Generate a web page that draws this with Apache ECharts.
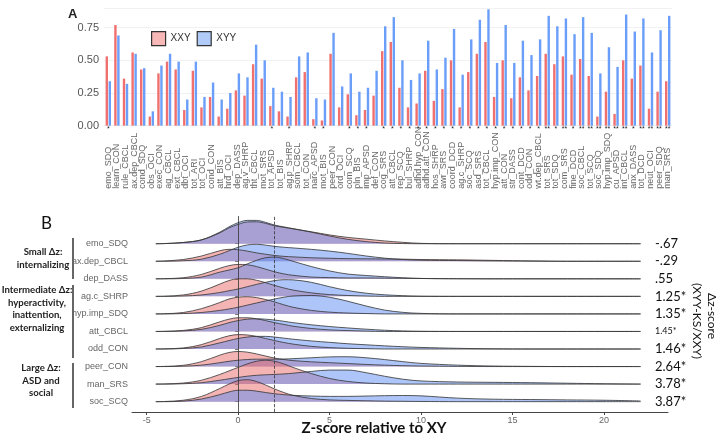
<!DOCTYPE html>
<html>
<head>
<meta charset="utf-8">
<script src="https://cdn.jsdelivr.net/npm/echarts@6/dist/echarts.min.js"></script>
<style>
html, body { margin: 0; padding: 0; background: #fff; }
#chart { width: 720px; height: 440px; }
</style>
</head>
<body>
<div id="chart"></div>
<script>
// ---- panel A: correlations per measure ----
const measures = ['emo_SDQ', 'learn_CON', 'rule_CBCL', 'ax.dep_CBCL', 'cond_SDQ', 'obs_OCI', 'exec_CON', 'ag_CBCL', 'ext_CBCL', 'dbt_OCI',
  'tot_ARI', 'tot_OCI', 'cond_CON', 'att_BIS', 'hrd_OCI', 'dep_DASS', 'ag.v_SHRP', 'tht_CBCL', 'mot_SRS', 'tot_APSD',
  'tot_BIS', 'ag.p_SHRP', 'som_CBCL', 'tot_CON', 'narc_APSD', 'mot_BIS', 'peer_CON', 'ord_OCI', 'com_SCQ', 'pln_BIS',
  'imp_APSD', 'def_CON', 'cog_SRS', 'att_CBCL', 'rep_SCQ', 'bul_SHRP', 'adhd.hyp_CON', 'adhd.att_CON', 'hos_SHRP', 'awr_SRS',
  'coord_DCD', 'ag.c_SHRP', 'soc_SCQ', 'asd_SRS', 'tot_CBCL', 'hyp.imp_CON', 'att_CON', 'str_DASS', 'cont_DCD', 'odd_CON',
  'wt.dep_CBCL', 'tot_SRS', 'tot_SDQ', 'com_SRS', 'fine_DCD', 'soc_CBCL', 'tot_SCQ', 'soc_SDQ', 'hyp.imp_SDQ', 'cu_APSD',
  'int_CBCL', 'anx_DASS', 'tot_DCD', 'neut_OCI', 'peer_SDQ', 'man_SRS'];

const xxyValues = [0.53, 0.77, 0.36, 0.56, 0.43, 0.07, 0.40, 0.49, 0.43, 0.12,
  0.42, 0.14, 0.22, 0.07, 0.13, 0.27, 0.23, 0.47, 0.36, 0.15,
  0.11, 0.07, 0.37, 0.41, 0.05, 0.04, 0.55, 0.14, 0.24, 0.08,
  0.12, 0.23, 0.57, 0.64, 0.29, 0.14, 0.17, 0.42, 0.19, 0.28,
  0.50, 0.14, 0.41, 0.55, 0.64, 0.22, 0.50, 0.21, 0.37, 0.27,
  0.38, 0.55, 0.47, 0.53, 0.39, 0.51, 0.38, 0.07, 0.26, 0.09,
  0.50, 0.36, 0.46, 0.13, 0.26, 0.34];

const xyyValues = [0.34, 0.69, 0.32, 0.55, 0.44, 0.11, 0.46, 0.55, 0.49, 0.20,
  0.49, 0.22, 0.33, 0.20, 0.25, 0.40, 0.37, 0.62, 0.50, 0.29,
  0.26, 0.22, 0.53, 0.56, 0.21, 0.20, 0.71, 0.30, 0.40, 0.26,
  0.29, 0.42, 0.76, 0.83, 0.50, 0.35, 0.40, 0.65, 0.43, 0.52,
  0.74, 0.39, 0.66, 0.81, 0.89, 0.48, 0.77, 0.48, 0.65, 0.54,
  0.66, 0.84, 0.76, 0.82, 0.70, 0.83, 0.71, 0.40, 0.60, 0.45,
  0.85, 0.72, 0.82, 0.56, 0.73, 0.84];

const sigMarks = ['*', '', '', '', '', '', '', '', '', '',
  '', '', '', '', '', '', '', '', '', '*',
  '', '*', '', '', '*', '*', '', '', '*', '*',
  '*', '', '*', '*', '*', '*', '*', '*', '*', '*',
  '*', '*', '*', '*', '*', '*', '*', '*', '*', '*',
  '*', '**', '*', '**', '*', '**', '**', '**', '**', '**',
  '**', '*', '**', '**', '**', '**'];

const yTicksA = [0, 0.25, 0.5, 0.75];

// ---- panel B: z-score distributions ----
const ridgeNames = ['emo_SDQ', 'ax.dep_CBCL', 'dep_DASS', 'ag.c_SHRP', 'hyp.imp_SDQ', 'att_CBCL', 'odd_CON', 'peer_CON', 'man_SRS', 'soc_SCQ'];
const deltaZ = ['-.67', '-.29', '.55', '1.25*', '1.35*', '1.45*', '1.46*', '2.64*', '3.78*', '3.87*'];
const zTicks = [-5, 0, 5, 10, 15, 20];
const zGrid = [-4.5, -4, -3, -2, -1, -0.5, 0, 0.5, 1, 1.5, 2, 2.5, 3, 4, 5, 6, 7, 8, 9, 10, 12, 14, 16, 18, 20, 22];

// ridge heights (in row spacings) read at zGrid, one row per measure, top to bottom
const xxyDensity = [
  [0, 0.01, 0.07, 0.22, 0.62, 0.9, 1.1, 1.24, 1.25, 1.16, 1.02, 0.93, 0.85, 0.68, 0.5, 0.36, 0.26, 0.16, 0.08, 0.02, 0, 0, 0, 0, 0, 0],
  [0, 0.02, 0.1, 0.3, 0.6, 0.68, 0.66, 0.58, 0.48, 0.4, 0.33, 0.28, 0.25, 0.2, 0.17, 0.15, 0.14, 0.13, 0.12, 0.1, 0.08, 0.05, 0.02, 0, 0, 0],
  [0, 0.01, 0.06, 0.25, 0.6, 0.75, 0.82, 0.8, 0.7, 0.55, 0.4, 0.28, 0.2, 0.1, 0.07, 0.05, 0.05, 0.04, 0.03, 0.02, 0.01, 0, 0, 0, 0, 0],
  [0, 0.01, 0.08, 0.3, 0.7, 0.9, 1.0, 1.0, 0.92, 0.78, 0.62, 0.48, 0.36, 0.2, 0.1, 0.05, 0.02, 0, 0, 0, 0, 0, 0, 0, 0, 0],
  [0, 0.01, 0.08, 0.3, 0.65, 0.85, 0.95, 0.98, 0.93, 0.82, 0.68, 0.52, 0.38, 0.2, 0.1, 0.05, 0.02, 0, 0, 0, 0, 0, 0, 0, 0, 0],
  [0, 0.01, 0.06, 0.22, 0.55, 0.7, 0.78, 0.78, 0.72, 0.62, 0.5, 0.4, 0.3, 0.17, 0.09, 0.05, 0.02, 0, 0, 0, 0, 0, 0, 0, 0, 0],
  [0, 0.01, 0.06, 0.25, 0.6, 0.75, 0.82, 0.8, 0.72, 0.6, 0.48, 0.37, 0.28, 0.15, 0.08, 0.04, 0.02, 0, 0, 0, 0, 0, 0, 0, 0, 0],
  [0, 0.01, 0.07, 0.28, 0.65, 0.8, 0.86, 0.82, 0.72, 0.6, 0.48, 0.4, 0.34, 0.27, 0.22, 0.17, 0.12, 0.08, 0.05, 0.03, 0.01, 0, 0, 0, 0, 0],
  [0, 0.01, 0.06, 0.22, 0.55, 0.75, 0.95, 1.15, 1.3, 1.36, 1.3, 1.15, 0.95, 0.6, 0.32, 0.15, 0.06, 0.02, 0, 0, 0, 0, 0, 0, 0, 0],
  [0, 0.01, 0.08, 0.3, 0.75, 1.0, 1.2, 1.25, 1.15, 0.95, 0.72, 0.52, 0.36, 0.18, 0.1, 0.07, 0.05, 0.03, 0.02, 0.01, 0, 0, 0, 0, 0, 0]
];
const xyyDensity = [
  [0, 0.01, 0.07, 0.22, 0.66, 0.96, 1.2, 1.33, 1.33, 1.22, 1.06, 0.96, 0.86, 0.66, 0.44, 0.25, 0.12, 0.04, 0.01, 0, 0, 0, 0, 0, 0, 0],
  [0, 0, 0.03, 0.12, 0.4, 0.6, 0.8, 0.93, 0.97, 0.92, 0.85, 0.8, 0.76, 0.68, 0.58, 0.45, 0.3, 0.18, 0.1, 0.06, 0.04, 0.02, 0.01, 0, 0, 0],
  [0, 0, 0.02, 0.1, 0.38, 0.5, 0.63, 0.85, 1.05, 1.2, 1.24, 1.15, 1.0, 0.7, 0.45, 0.27, 0.19, 0.12, 0.06, 0.02, 0, 0, 0, 0, 0, 0],
  [0, 0, 0.02, 0.08, 0.22, 0.32, 0.42, 0.55, 0.68, 0.8, 0.9, 0.95, 0.94, 0.8, 0.55, 0.33, 0.18, 0.09, 0.04, 0.01, 0, 0, 0, 0, 0, 0],
  [0, 0, 0.02, 0.08, 0.2, 0.28, 0.38, 0.5, 0.62, 0.74, 0.85, 0.95, 1.02, 1.05, 0.95, 0.72, 0.45, 0.22, 0.09, 0.03, 0, 0, 0, 0, 0, 0],
  [0, 0, 0.03, 0.12, 0.35, 0.5, 0.62, 0.7, 0.72, 0.7, 0.65, 0.58, 0.5, 0.38, 0.28, 0.2, 0.13, 0.07, 0.03, 0.01, 0, 0, 0, 0, 0, 0],
  [0, 0, 0.03, 0.12, 0.35, 0.48, 0.6, 0.68, 0.72, 0.72, 0.68, 0.62, 0.56, 0.46, 0.38, 0.3, 0.24, 0.18, 0.13, 0.09, 0.04, 0.01, 0, 0, 0, 0],
  [0, 0, 0.02, 0.08, 0.22, 0.3, 0.36, 0.4, 0.42, 0.42, 0.42, 0.43, 0.45, 0.5, 0.55, 0.56, 0.5, 0.4, 0.28, 0.18, 0.08, 0.03, 0.01, 0, 0, 0],
  [0, 0, 0.02, 0.08, 0.22, 0.3, 0.38, 0.45, 0.5, 0.53, 0.55, 0.58, 0.62, 0.72, 0.8, 0.8, 0.65, 0.45, 0.28, 0.18, 0.12, 0.1, 0.08, 0.05, 0.02, 0],
  [0, 0, 0.03, 0.15, 0.4, 0.55, 0.65, 0.65, 0.6, 0.52, 0.45, 0.4, 0.36, 0.32, 0.3, 0.3, 0.32, 0.34, 0.35, 0.33, 0.2, 0.14, 0.12, 0.1, 0.08, 0.04]
];

const chart = echarts.init(document.getElementById('chart'));

const ridgeMin = 0.41;
const ridgeMax = 11.58;
const rowBase = i => ridgeNames.length - i;

const ridgeSeries = [];
ridgeNames.forEach((name, i) => {
  const base = rowBase(i);
  [[xxyDensity[i], '#ea6a6a'], [xyyDensity[i], '#5c8cf2']].forEach(([dens, fill]) => {
    ridgeSeries.push({
      type: 'line',
      xAxisIndex: 2,
      yAxisIndex: 1,
      smooth: 0.35,
      symbol: 'none',
      silent: true,
      data: zGrid.map((z, k) => [z, base + dens[k]]),
      lineStyle: { color: '#333', width: 0.8 },
      areaStyle: { color: fill, opacity: 0.5, origin: base }
    });
  });
});
ridgeSeries[ridgeSeries.length - 1].markLine = {
  symbol: 'none',
  silent: true,
  label: { show: false },
  lineStyle: { color: '#333', width: 0.8 },
  data: [
    { xAxis: 0, lineStyle: { type: 'solid' } },
    { xAxis: 2, lineStyle: { type: 'dashed' } }
  ]
};

const groupText = (lines, x, y0) => lines.map((t, k) => ({
  type: 'text',
  x: x,
  y: y0 + k * 12.6,
  style: { text: t, font: 'bold 9.6px Lato', fill: '#222', textAlign: 'center', textVerticalAlign: 'middle' }
}));

const option = {
  animation: false,
  backgroundColor: '#fff',
  legend: {
    left: 146,
    top: 26,
    itemWidth: 14,
    itemHeight: 14,
    itemGap: 6,
    icon: 'rect',
    textStyle: { fontSize: 10, color: '#333', fontFamily: 'Liberation Sans' },
    data: [
      { name: 'XXY', itemStyle: { color: '#f9b8b8', borderColor: '#333', borderWidth: 1.2 } },
      { name: 'XYY', itemStyle: { color: '#b0cbf8', borderColor: '#333', borderWidth: 1.2 } }
    ]
  },
  grid: [
    { left: 104, right: 48, top: 8, height: 117.7 },
    { left: 132, right: 52, top: 216, bottom: 28 }
  ],
  xAxis: [
    {
      type: 'category',
      gridIndex: 0,
      position: 'bottom',
      data: measures,
      axisLine: { show: false },
      axisTick: { show: false },
      axisLabel: {
        interval: 0,
        rotate: 90,
        align: 'left',
        margin: 63,
        fontSize: 9,
        color: '#666',
        fontFamily: 'Liberation Sans'
      }
    },
    {
      type: 'category',
      gridIndex: 0,
      position: 'bottom',
      data: measures,
      axisLine: { show: false },
      axisTick: { show: false },
      axisLabel: {
        interval: 0,
        margin: 0,
        fontSize: 7,
        color: '#222',
        formatter: (v, i) => sigMarks[i]
      }
    },
    {
      type: 'value',
      gridIndex: 1,
      min: -5.8,
      max: 23.5,
      splitLine: { show: false },
      axisLine: { lineStyle: { color: '#444', width: 1 } },
      axisTick: { customValues: zTicks, length: 3, lineStyle: { color: '#444' } },
      axisLabel: { customValues: zTicks, fontSize: 9, color: '#666', margin: 4, fontFamily: 'Liberation Sans' }
    }
  ],
  yAxis: [
    {
      type: 'value',
      gridIndex: 0,
      min: 0,
      max: 0.9,
      interval: 0.25,
      axisLine: { show: false },
      axisTick: { show: false },
      splitLine: { lineStyle: { color: '#f1f1f1', width: 1 } },
      axisLabel: {
        customValues: yTicksA,
        formatter: v => v.toFixed(2),
        fontSize: 11,
        color: '#555',
        margin: 5,
        fontFamily: 'Liberation Sans'
      }
    },
    {
      type: 'value',
      gridIndex: 1,
      min: ridgeMin,
      max: ridgeMax,
      splitLine: { show: false },
      axisLine: { show: false },
      axisTick: { show: true, customValues: [1, 2, 3, 4, 5, 6, 7, 8, 9, 10], length: 3, lineStyle: { color: '#777' } },
      axisLabel: {
        customValues: [1, 2, 3, 4, 5, 6, 7, 8, 9, 10],
        formatter: v => ridgeNames[ridgeNames.length - Math.round(v)],
        fontSize: 9,
        color: '#666',
        margin: 4,
        fontFamily: 'Liberation Sans'
      }
    },
    {
      type: 'value',
      gridIndex: 1,
      position: 'right',
      min: ridgeMin,
      max: ridgeMax,
      splitLine: { show: false },
      axisLine: { show: false },
      axisTick: { show: false },
      axisLabel: {
        customValues: [1, 2, 3, 4, 5, 6, 7, 8, 9, 10],
        margin: -13,
        formatter: v => {
          const k = ridgeNames.length - Math.round(v);
          return k === 5 ? '{s|' + deltaZ[k] + '}' : '{n|' + deltaZ[k] + '}';
        },
        rich: {
          n: { fontSize: 13, color: '#111', fontFamily: 'Lato' },
          s: { fontSize: 9, color: '#111', fontFamily: 'Lato' }
        }
      }
    }
  ],
  graphic: [
    { type: 'text', x: 68, y: 14, style: { text: 'A', font: 'bold 13px Liberation Sans', fill: '#222', textVerticalAlign: 'middle' } },
    { type: 'text', x: 41, y: 224, style: { text: 'B', font: '17px Lato', fill: '#111', textVerticalAlign: 'middle' } },
    { type: 'text', x: 374, y: 428, style: { text: 'Z-score relative to XY', font: 'bold 15px Lato', fill: '#111', textAlign: 'center', textVerticalAlign: 'middle' } },
    { type: 'text', x: 712, y: 316, rotation: -Math.PI / 2, style: { text: 'Δz-score', font: '12px Lato', fill: '#111', textAlign: 'center', textVerticalAlign: 'middle' } },
    { type: 'text', x: 697, y: 321, rotation: -Math.PI / 2, style: { text: '(XYY-KS/XXY)', font: '12px Lato', fill: '#111', textAlign: 'center', textVerticalAlign: 'middle' } },
    ...groupText(['Small Δz:', 'internalizing'], 43, 252),
    ...groupText(['Intermediate Δz:', 'hyperactivity,', 'inattention,', 'externalizing'], 37, 290),
    ...groupText(['Large Δz:', 'ASD and', 'social'], 41, 368),
    { type: 'line', shape: { x1: 73, y1: 238, x2: 73, y2: 279 }, style: { stroke: '#333', lineWidth: 1.5 } },
    { type: 'line', shape: { x1: 73, y1: 285, x2: 73, y2: 358 }, style: { stroke: '#333', lineWidth: 1.5 } },
    { type: 'line', shape: { x1: 73, y1: 363, x2: 73, y2: 408 }, style: { stroke: '#333', lineWidth: 1.5 } }
  ],
  series: [
    {
      name: 'XXY',
      type: 'bar',
      xAxisIndex: 0,
      yAxisIndex: 0,
      barWidth: 2.4,
      barGap: '25%',
      itemStyle: { color: '#f07070' },
      data: xxyValues
    },
    {
      name: 'XYY',
      type: 'bar',
      xAxisIndex: 0,
      yAxisIndex: 0,
      barWidth: 2.4,
      barGap: '25%',
      itemStyle: { color: '#6a9ef8' },
      data: xyyValues
    },
    ...ridgeSeries
  ]
};

chart.setOption(option);
</script>
</body>
</html>
